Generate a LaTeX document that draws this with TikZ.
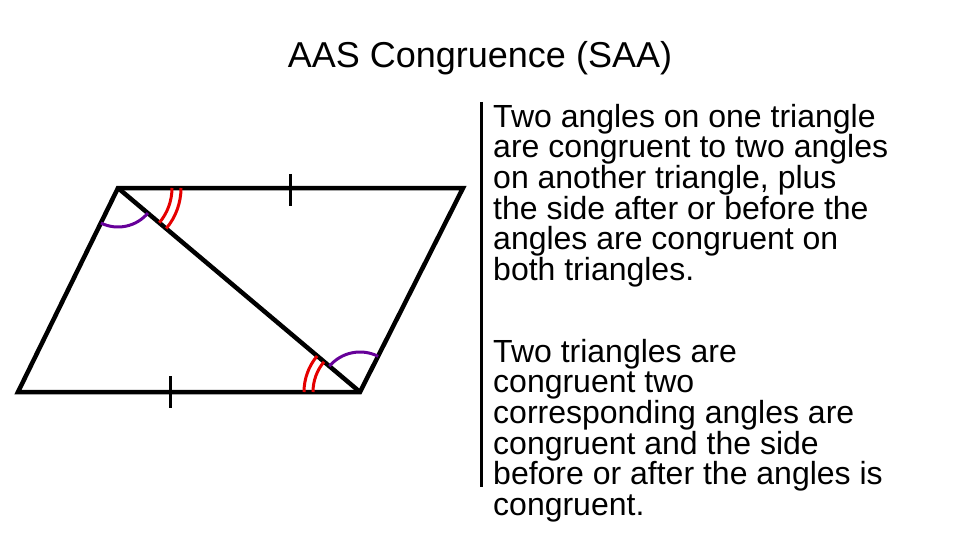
\documentclass[tikz,border=0pt]{standalone}
\usepackage{fontspec}
\setmainfont{Liberation Sans}
\begin{document}
\begin{tikzpicture}[x=1pt,y=-1pt,
  edge/.style={line width=4.5pt,line join=miter},
  tick/.style={line width=3pt},
  purp/.style={draw=violet!80!blue,line width=3pt},
  redarc/.style={draw=red!90!black,line width=3pt},
  txt/.style={anchor=north west,align=left,font=\fontsize{32}{30.6}\selectfont,inner sep=0pt}]
\useasboundingbox (0,0) rectangle (960,540);
\coordinate (A) at (118,188);
\coordinate (B) at (463,188);
\coordinate (C) at (360,392);
\coordinate (D) at (18,392);
\draw[edge] (A) -- (B) -- (C) -- (D) -- cycle;
\draw[edge] (A) -- (C);
\draw[tick] (290,174) -- (290,206);
\draw[tick] (170,376) -- (170,408);
% arcs at A
\draw[purp] ([shift={(116:39)}]A) arc[start angle=116,end angle=40,radius=39];
\draw[redarc] ([shift={(0:54)}]A) arc[start angle=0,end angle=40,radius=54];
\draw[redarc] ([shift={(0:63)}]A) arc[start angle=0,end angle=40,radius=63];
% arcs at C
\draw[purp] ([shift={(220:40)}]C) arc[start angle=220,end angle=297,radius=40];
\draw[redarc] ([shift={(180:47)}]C) arc[start angle=180,end angle=220,radius=47];
\draw[redarc] ([shift={(180:56)}]C) arc[start angle=180,end angle=220,radius=56];
\draw[line width=3pt] (481,102) -- (481,487);
\node[font=\fontsize{36}{40}\selectfont] (t) at (480,58) {AAS Congruence (SAA)};
\node[txt] (p1) at (493,104) {Two angles on one triangle\\are congruent to two angles\\on another triangle, plus\\the side after or before the\\angles are congruent on\\both triangles.};
\node[txt] (p2) at (493,339) {Two triangles are\\congruent two\\corresponding angles are\\congruent and the side\\before or after the angles is\\congruent.};
\end{tikzpicture}
\end{document}
